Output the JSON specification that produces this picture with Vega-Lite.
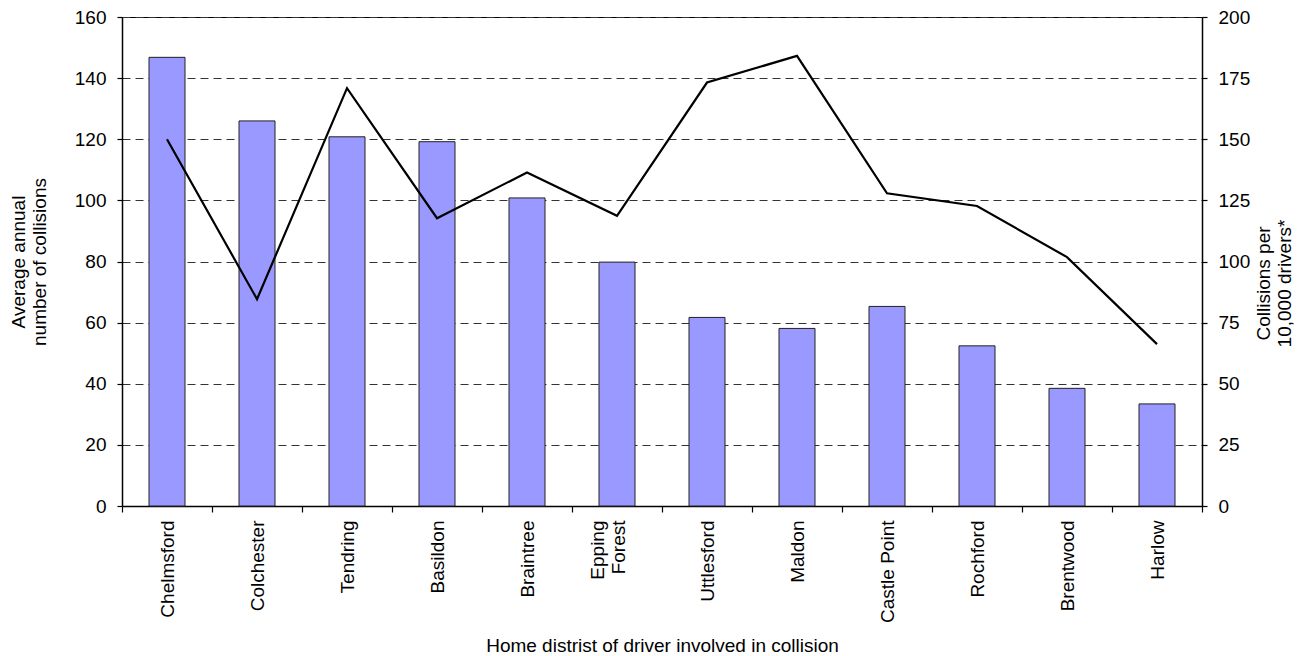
{
  "$schema": "https://vega.github.io/schema/vega-lite/v6.json",
  "width": 1080,
  "height": 489,
  "autosize": {"type": "none"},
  "padding": {"left": 122, "top": 17, "right": 105, "bottom": 150},
  "background": "white",
  "config": {
    "view": {"stroke": "black", "strokeWidth": 1},
    "axis": {
      "labelFont": "Liberation Sans",
      "titleFont": "Liberation Sans",
      "labelFontSize": 19,
      "titleFontSize": 19,
      "titleFontWeight": "normal",
      "labelColor": "black",
      "titleColor": "black",
      "domainColor": "black",
      "domainWidth": 1.5,
      "tickColor": "black",
      "tickWidth": 1.2,
      "tickSize": 5
    }
  },
  "data": {
    "values": [
      {"district": "Chelmsford", "collisions": 146.8, "rate": 150.0},
      {"district": "Colchester", "collisions": 126.0, "rate": 84.6},
      {"district": "Tendring", "collisions": 120.8, "rate": 170.9},
      {"district": "Basildon", "collisions": 119.2, "rate": 117.7},
      {"district": "Braintree", "collisions": 100.8, "rate": 136.4},
      {"district": "Epping Forest", "collisions": 79.8, "rate": 118.7},
      {"district": "Uttlesford", "collisions": 61.7, "rate": 173.2},
      {"district": "Maldon", "collisions": 58.1, "rate": 184.1},
      {"district": "Castle Point", "collisions": 65.3, "rate": 127.9},
      {"district": "Rochford", "collisions": 52.4, "rate": 122.7},
      {"district": "Brentwood", "collisions": 38.5, "rate": 101.8},
      {"district": "Harlow", "collisions": 33.4, "rate": 66.2}
    ]
  },
  "encoding": {
    "x": {
      "field": "district",
      "type": "nominal",
      "sort": null,
      "scale": {"paddingInner": 0, "paddingOuter": 0},
      "axis": {
        "title": "Home distrist of driver involved in collision",
        "labelAngle": -90,
        "labelPadding": 8,
        "tickSize": 6,
        "tickBand": "extent",
        "titlePadding": 14,
        "labelExpr": "datum.value == 'Epping Forest' ? ['Epping', 'Forest'] : datum.value",
        "labelLineHeight": 21,
        "labelOffset": {"condition": {"test": "datum.value == 'Epping Forest'", "value": -20}, "value": 0}
      }
    }
  },
  "layer": [
    {
      "mark": {
        "type": "bar",
        "fill": "#9999FF",
        "stroke": "#222222",
        "strokeWidth": 1,
        "width": {"band": 0.4}
      },
      "encoding": {
        "y": {
          "field": "collisions",
          "type": "quantitative",
          "scale": {"domain": [0, 160], "nice": false},
          "axis": {
            "title": ["Average annual", "number of collisions"],
            "values": [0, 20, 40, 60, 80, 100, 120, 140, 160],
            "labelPadding": 11,
            "titlePadding": 25,
            "titleLineHeight": 21,
            "grid": true,
            "gridDash": [8, 5],
            "gridColor": "#333333",
            "gridWidth": 1
          }
        }
      }
    },
    {
      "mark": {"type": "line", "color": "black", "strokeWidth": 2.2},
      "encoding": {
        "y": {
          "field": "rate",
          "type": "quantitative",
          "scale": {"domain": [0, 200], "nice": false},
          "axis": {
            "orient": "right",
            "title": ["Collisions per", "10,000 drivers*"],
            "values": [0, 25, 50, 75, 100, 125, 150, 175, 200],
            "labelPadding": 11,
            "titleAngle": -90,
            "titleBaseline": "top",
            "titlePadding": -16,
            "titleY": 266,
            "titleLineHeight": 21,
            "grid": false
          }
        }
      }
    }
  ],
  "resolve": {"scale": {"y": "independent"}}
}
